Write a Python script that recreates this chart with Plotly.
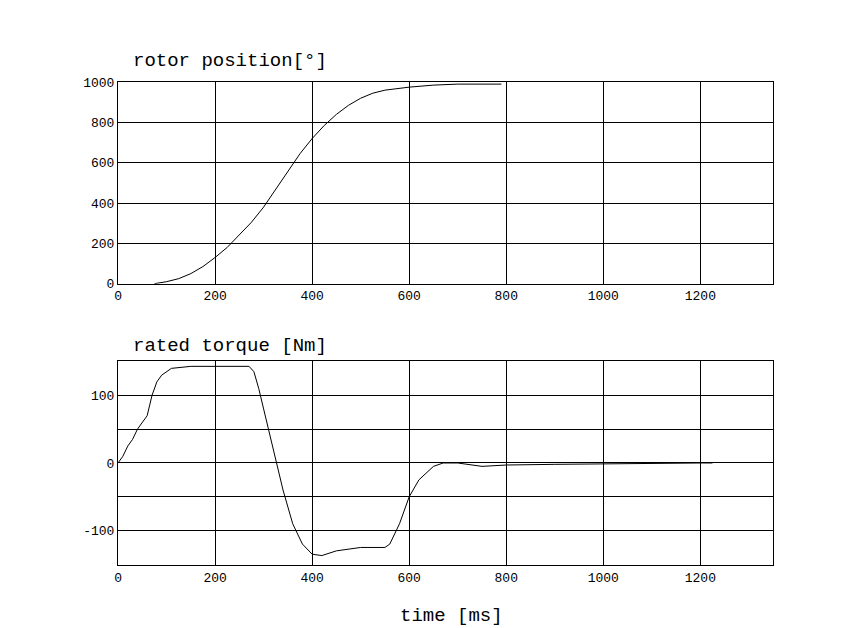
import plotly.graph_objects as go

pos_t = [75, 100, 125, 150, 175, 200, 225, 250, 275, 300, 325, 350, 375, 400, 425, 450, 475, 500, 525, 550, 600, 650, 700, 790]
pos_v = [0, 10, 25, 50, 85, 130, 180, 240, 305, 380, 470, 560, 645, 720, 785, 840, 885, 920, 945, 960, 975, 985, 990, 990]

tq_t = [0, 10, 20, 30, 40, 50, 60, 70, 80, 90, 110, 150, 200, 270, 280, 290, 300, 320, 340, 360, 380, 400, 420, 450, 500, 550, 560, 580, 600, 620, 650, 670, 700, 750, 800, 900, 1000, 1100, 1200, 1225]
tq_v = [0, 10, 25, 35, 50, 60, 70, 100, 120, 130, 140, 143, 143, 143, 135, 110, 80, 20, -40, -90, -120, -135, -137, -130, -125, -125, -120, -90, -50, -25, -5, 0, 0, -5, -3, -2, -1, 0, 0, 0]

xticks = [0, 200, 400, 600, 800, 1000, 1200]
y1ticks = [0, 200, 400, 600, 800, 1000]
y2ticks = [-150, -100, -50, 0, 50, 100, 150]
y2text = ["", "-100", "", "0", "", "100", ""]

FONT = "Liberation Mono"
fig = go.Figure()
fig.add_trace(go.Scatter(x=pos_t, y=pos_v, mode="lines", line=dict(color="black", width=1), xaxis="x", yaxis="y"))
fig.add_trace(go.Scatter(x=tq_t, y=tq_v, mode="lines", line=dict(color="black", width=1), xaxis="x2", yaxis="y2"))

ax = dict(showline=True, mirror=True, linecolor="black", linewidth=1, gridcolor="black", gridwidth=1,
          zeroline=False, ticks="", automargin=False, tickfont=dict(family=FONT, size=13, color="black"))
fig.update_layout(
    width=853, height=628, margin=dict(l=0, r=0, t=0, b=0, autoexpand=False),
    plot_bgcolor="white", paper_bgcolor="white", showlegend=False,
    font=dict(family=FONT, color="black"),
    xaxis=dict(ax, domain=[0.129, 0.897], range=[0, 1350], tickvals=xticks, anchor="y"),
    yaxis=dict(ax, domain=[0.561, 0.882], range=[0, 1000], tickvals=y1ticks, anchor="x"),
    xaxis2=dict(ax, domain=[0.129, 0.897], range=[0, 1350], tickvals=xticks, anchor="y2"),
    yaxis2=dict(ax, domain=[0.113, 0.438], range=[-151, 151], tickvals=y2ticks, ticktext=y2text, anchor="x2"),
    annotations=[
        dict(text="rotor position[°]", x=123/853, y=1-53/628, xref="paper", yref="paper", showarrow=False,
             xanchor="left", yanchor="middle", font=dict(size=19, family=FONT)),
        dict(text="rated torque [Nm]", x=123/853, y=1-338/628, xref="paper", yref="paper", showarrow=False,
             xanchor="left", yanchor="middle", font=dict(size=19, family=FONT)),
        dict(text="time [ms]", x=443/853, y=1-608/628, xref="paper", yref="paper", showarrow=False,
             xanchor="center", yanchor="middle", font=dict(size=19, family=FONT)),
    ],
)
fig.write_html("out.html")
